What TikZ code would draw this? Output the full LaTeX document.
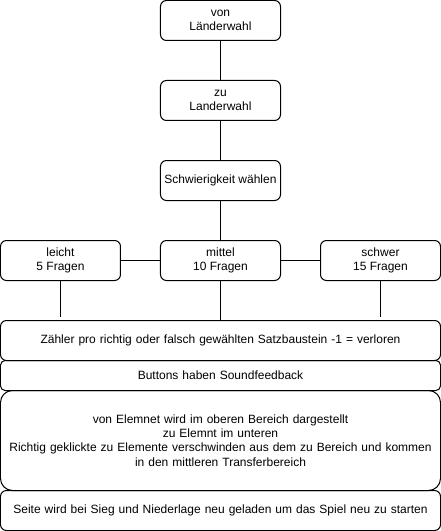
\documentclass[tikz,border=0pt]{standalone}
\usepackage{fontspec}
\setmainfont{Liberation Sans}
\usepackage{xcolor}
\usetikzlibrary{positioning}

\begin{document}
\begin{tikzpicture}[
    node distance=30pt,
    font=\fontsize{9}{10.8}\selectfont,
    box/.style={rectangle, rounded corners=4.5pt, draw=black, line width=0.75pt, align=center, inner sep=1pt, outer sep=0pt, minimum width=90pt, minimum height=30pt},
    bar/.style={rectangle, rounded corners=4.5pt, draw=black, line width=0.75pt, align=center, inner sep=1pt, outer sep=0pt, minimum width=330pt, text width=322pt, minimum height=30pt},
    link/.style={line width=0.75pt}
]

\node[box] (von) {von\\Länderwahl};
\node[box, below=of von] (zu) {zu\\Landerwahl};
\node[box, below=of zu] (level) {Schwierigkeit wählen};

\node[box, below=of level] (mittel) {mittel\\10 Fragen};
\node[box, left=of mittel] (leicht) {leicht\\5 Fragen};
\node[box, right=of mittel] (schwer) {schwer\\15 Fragen};

\node[bar, below=of mittel] (zaehler) {Zähler pro richtig oder falsch gewählten Satzbaustein -1 = verloren};
\node[bar, below=0pt of zaehler, minimum height=22.5pt, rounded corners=3.5pt] (sound) {Buttons haben Soundfeedback};
\node[bar, below=0pt of sound, minimum height=75pt, rounded corners=9pt] (bereich) {von Elemnet wird im oberen Bereich dargestellt\\zu Elemnt im unteren\\Richtig geklickte zu Elemente verschwinden aus dem zu Bereich und kommen\\in den mittleren Transferbereich};
\node[bar, below=0pt of bereich] (neu) {Seite wird bei Sieg und Niederlage neu geladen um das Spiel neu zu starten};

\coordinate[below=27pt of leicht] (leichtend);
\coordinate[below=27pt of schwer] (schwerend);

\draw[link] (von) -- (zu);
\draw[link] (zu) -- (level);
\draw[link] (level) -- (mittel);
\draw[link] (leicht) -- (mittel);
\draw[link] (mittel) -- (schwer);

\draw[link] (leicht.south) -- (leichtend);
\draw[link] (mittel) -- (zaehler);
\draw[link] (schwer.south) -- (schwerend);

\useasboundingbox ([shift={(-0.375pt,0.375pt)}]leicht.west |- von.north) rectangle ([shift={(0.375pt,-0.375pt)}]neu.south east);

\end{tikzpicture}
\end{document}
